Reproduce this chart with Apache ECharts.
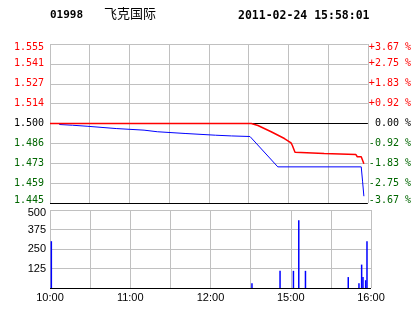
<!DOCTYPE html>
<html>
<head>
<meta charset="utf-8">
<script src="https://cdn.jsdelivr.net/npm/echarts@6/dist/echarts.min.js"></script>
<style>html,body{margin:0;padding:0;background:#fff;}#c{width:414px;height:314px;}</style>
</head>
<body>
<div id="c"></div>
<script>
// ---- data ----
const stockCode = '01998';
const stockName = '飞克国际';
const stamp = '2011-02-24 15:58:01';
const prevClose = 1.500;
const sessionMinutes = [0, 240];
const timeLabels = ['10:00','10:30','11:00','11:30','12:00','12:30','15:00','15:30','16:00'];
const priceTickLabels = ['1.445','1.459','1.473','1.486','1.500','1.514','1.527','1.541','1.555'];
const pctTickLabels = ['-3.67 %','-2.75 %','-1.83 %','-0.92 %',' 0.00 %','+0.92 %','+1.83 %','+2.75 %','+3.67 %'];
const volTickLabels = ['', '125', '250', '375', '500'];

const priceMinutes = [0, 152, 157, 167, 177, 182, 183, 185, 186, 207, 208, 231, 232, 235, 237];
const priceValues  = [1.500, 1.500, 1.4986, 1.4943, 1.4896, 1.4866, 1.4848, 1.4801, 1.4792, 1.4792, 1.4785, 1.4785, 1.4770, 1.4770, 1.4721];

const avgMinutes = [7, 17, 28, 50, 71, 81, 102, 125, 137, 151, 172, 235, 236, 237];
const avgValues  = [1.4993, 1.4988, 1.4981, 1.4965, 1.4954, 1.4943, 1.4931, 1.4919, 1.4914, 1.4910, 1.4700, 1.4700, 1.4601, 1.4497];

const volMinutes = [1, 151, 172, 182, 186, 191, 223, 231, 233, 234, 236, 237];
const volValues  = [300, 30, 110, 110, 435, 110, 70, 30, 150, 70, 50, 300];

// ---- build ----
const GRAY = '#c0c0c0';
const RED = '#ff0000';
const GREEN = '#006600';
const toUnits = p => (p - prevClose) * 1000;   // thousandths from previous close
const tickIdx = v => Math.round((Number(v) + 55) / 13.75);
const labelColor = v => { const i = tickIdx(v); return i > 4 ? RED : (i === 4 ? '#000' : GREEN); };
const monoFont = 'DejaVu Sans Mono';
const edgeWrap = (s, i, last) => (i === last ? '{t|' + s + '}' : (i === 0 ? '{b|' + s + '}' : s));
const monoRich = {
  t: {padding: [6, 0, 0, 0], fontFamily: monoFont, fontSize: 10},
  b: {padding: [0, 0, 6, 0], fontFamily: monoFont, fontSize: 10}
};

const priceData = priceMinutes.map((m, i) => [m, toUnits(priceValues[i])]);
const avgData = avgMinutes.map((m, i) => [m, toUnits(avgValues[i])]);
const closeData = sessionMinutes.map(m => [m, toUnits(prevClose)]);
const volData = volMinutes.map((m, i) => [m, volValues[i]]);

const chart = echarts.init(document.getElementById('c'), null, {renderer: 'canvas'});
chart.setOption({
  animation: false,
  backgroundColor: '#fff',
  graphic: [
    {type: 'text', left: 50, top: 10, style: {text: stockCode, font: 'bold 11px "DejaVu Sans Mono"', fill: '#000'}},
    {type: 'text', left: 104, top: 7, style: {text: stockName, font: '13px "Noto Sans CJK SC"', fill: '#000'}},
    {type: 'text', left: 238, top: 10, style: {text: stamp, font: 'bold 11.5px "DejaVu Sans Mono"', fill: '#000'}}
  ],
  grid: [
    {left: 50, right: 43, top: 44, height: 159},
    {left: 50, right: 43, top: 210, height: 78}
  ],
  xAxis: [
    {gridIndex: 0, type: 'value', min: 0, max: 240, interval: 30,
     axisLine: {show: false}, axisTick: {show: false}, axisLabel: {show: false},
     splitLine: {show: true, lineStyle: {color: GRAY, width: 1}}},
    {gridIndex: 1, type: 'value', min: 0, max: 240, interval: 30,
     axisLine: {show: false}, axisTick: {show: false},
     axisLabel: {margin: 4, color: '#000', fontFamily: 'Liberation Sans', fontSize: 11,
       formatter: v => (Number(v) % 60 === 0 ? timeLabels[Math.round(Number(v) / 30)] : '')},
     splitLine: {show: true, lineStyle: {color: GRAY, width: 1}}}
  ],
  yAxis: [
    {gridIndex: 0, type: 'value', min: -55, max: 55, interval: 13.75, position: 'left',
     axisLine: {show: false}, axisTick: {show: false},
     axisLabel: {margin: 6, fontFamily: monoFont, fontSize: 10,
       color: v => labelColor(v),
       formatter: v => edgeWrap(priceTickLabels[tickIdx(v)], tickIdx(v), 8),
       rich: monoRich},
     splitLine: {show: true, lineStyle: {width: 1,
       color: ['#000', GRAY, GRAY, GRAY, GRAY, GRAY, GRAY, GRAY, GRAY]}}},
    {gridIndex: 0, type: 'value', min: -55, max: 55, interval: 13.75, position: 'right',
     axisLine: {show: false}, axisTick: {show: false}, splitLine: {show: false},
     axisLabel: {margin: 1, fontFamily: monoFont, fontSize: 10,
       color: v => labelColor(v),
       formatter: v => edgeWrap(pctTickLabels[tickIdx(v)], tickIdx(v), 8),
       rich: monoRich}},
    {gridIndex: 1, type: 'value', min: 0, max: 500, interval: 125,
     axisLine: {show: false}, axisTick: {show: false},
     axisLabel: {margin: 4, color: '#000', fontFamily: 'Liberation Sans', fontSize: 11,
       formatter: v => {
         const i = Math.round(Number(v) / 125);
         return i === 4 ? '{t|' + volTickLabels[i] + '}' : volTickLabels[i];
       },
       rich: {t: {padding: [6, 0, 0, 0], fontFamily: 'Liberation Sans', fontSize: 11}}},
     splitLine: {show: true, lineStyle: {width: 1, color: ['#000', GRAY, GRAY, GRAY, GRAY]}}}
  ],
  series: [
    {type: 'line', xAxisIndex: 0, yAxisIndex: 0, data: closeData, symbol: 'none', z: 3,
     lineStyle: {color: '#000', width: 1}, silent: true},
    {type: 'line', xAxisIndex: 0, yAxisIndex: 0, data: avgData, symbol: 'none', zlevel: 1, z: 4,
     lineStyle: {color: '#0000ff', width: 1}, silent: true},
    {type: 'line', xAxisIndex: 0, yAxisIndex: 0, data: priceData, symbol: 'none', zlevel: 1, z: 5,
     lineStyle: {color: RED, width: 1.5}, silent: true},
    {type: 'bar', xAxisIndex: 1, yAxisIndex: 2, data: volData, barWidth: 1.5, z: 4,
     itemStyle: {color: '#0000ff'}, silent: true}
  ]
});
</script>
</body>
</html>
